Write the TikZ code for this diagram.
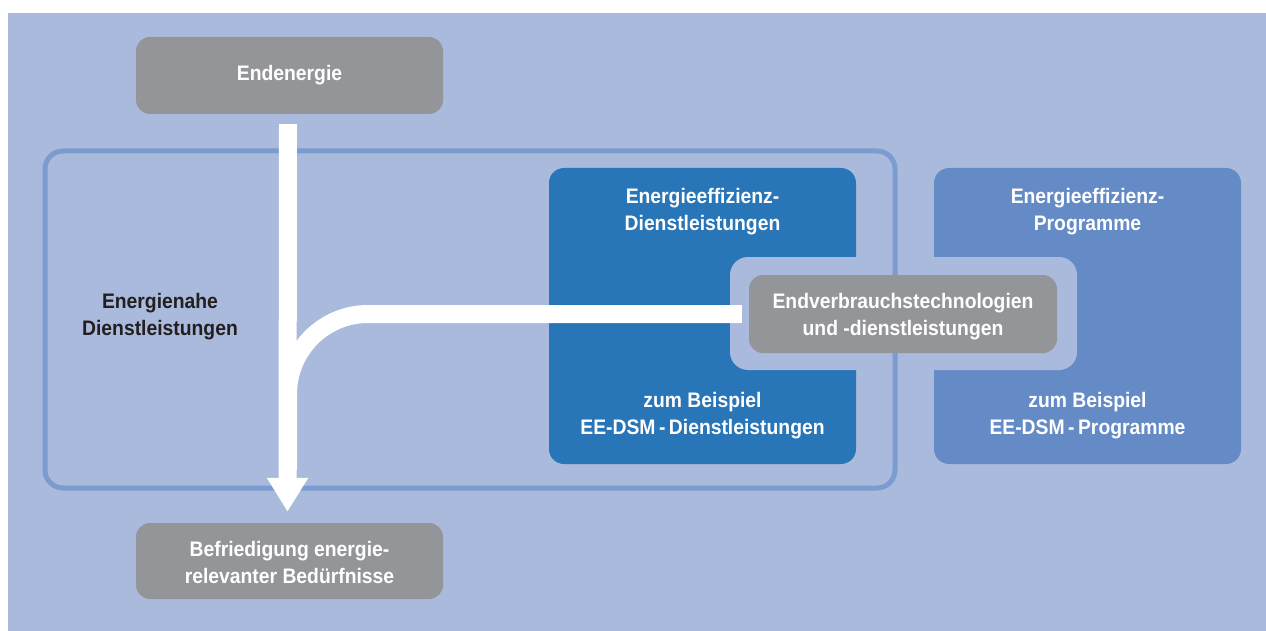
\documentclass[tikz,border=0pt]{standalone}
\usepackage{fontspec}
\setmainfont{Liberation Sans}[FakeStretch=0.92]
\usetikzlibrary{arrows.meta}
\definecolor{bgblue}{RGB}{170,186,220}
\definecolor{boxgray}{RGB}{147,149,152}
\definecolor{darkblue}{RGB}{40,117,183}
\definecolor{midblue}{RGB}{101,139,198}
\definecolor{lineblue}{RGB}{123,156,208}
\definecolor{darktext}{RGB}{35,31,32}
\tikzset{
  lbl/.style={font=\fontsize{21}{27.5}\selectfont\bfseries, align=center, inner sep=0pt},
  graybox/.style={fill=boxgray, rounded corners=14pt, inner sep=0pt},
  bluebox/.style={rounded corners=15pt, inner sep=0pt},
  flow/.style={draw=white, line width=18pt},
}
\begin{document}
\begin{tikzpicture}[x=1pt,y=-1pt]
\useasboundingbox (0,0) rectangle (1266,631);
\fill[bgblue] (8,13) rectangle (1266,631);
% blue boxes
\node[bluebox, fill=darkblue, minimum width=307pt, minimum height=296pt] (eedl) at (702.5,316) {};
\node[bluebox, fill=midblue, minimum width=307pt, minimum height=296pt] (eep) at (1087.5,316) {};
% halo
\node[fill=bgblue, rounded corners=18pt, minimum width=347pt, minimum height=113pt, inner sep=0pt] (halo) at (903.5,313.5) {};
% outline
\node[draw=lineblue, line width=5pt, rounded corners=18pt, minimum width=850pt, minimum height=337pt, inner sep=0pt] (outline) at (470,319.5) {};
% gray boxes
\node[graybox, minimum width=307pt, minimum height=77pt] (ende) at (289.5,75.5) {};
\node[graybox, minimum width=307pt, minimum height=76pt] (befr) at (289.5,561) {};
\node[graybox, minimum width=308pt, minimum height=78pt] (tech) at (903,314) {};
% flows
\coordinate (join) at (288,470);
\draw[flow, rounded corners=80pt] ([xshift=-7pt]tech.west) -- (tech.west -| join) -- (join);
\draw[flow, -{Triangle[width=39pt,length=34pt]}] ([xshift=-1.5pt,yshift=-10pt]ende.south) -- ([xshift=-2pt,yshift=11pt]befr.north);
% labels
\node[lbl, text=white] (t1) at (ende.center) {Endenergie};
\node[lbl, text=white] (t2) at (289.5,562.5) {Befriedigung energie-\\relevanter Bedürfnisse};
\node[lbl, text=white] (t3) at (903,316.5) {Endverbrauchstechnologien\\und -dienstleistungen};
\node[lbl, text=darktext] (t4) at (160,316.5) {Energienahe\\Dienstleistungen};
\node[lbl, text=white] (t5) at (702.5,211.5) {Energieeffizienz-\\Dienstleistungen};
\node[lbl, text=white] (t6) at (702.5,415.5) {zum Beispiel\\EE-DSM\,-\,Dienstleistungen};
\node[lbl, text=white] (t7) at (1087.5,211.5) {Energieeffizienz-\\Programme};
\node[lbl, text=white] (t8) at (1087.5,415.5) {zum Beispiel\\EE-DSM\,-\,Programme};
\end{tikzpicture}
\end{document}
